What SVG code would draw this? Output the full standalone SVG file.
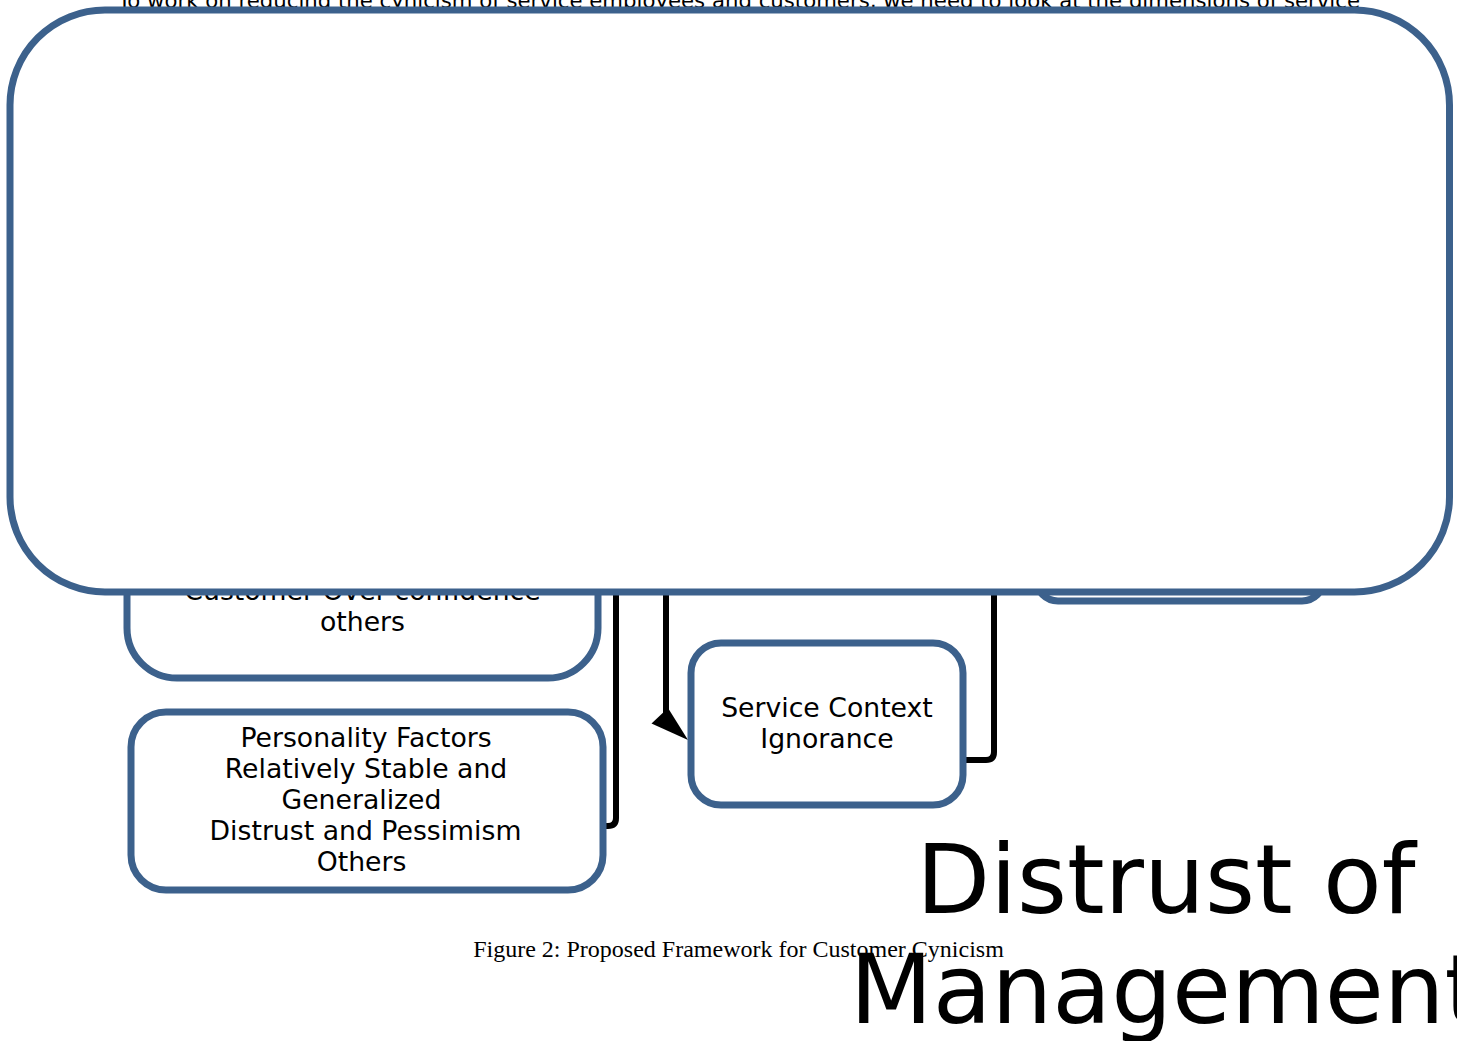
<svg xmlns="http://www.w3.org/2000/svg" width="1457" height="1041" viewBox="0 0 1457 1041">
<style>
.box{fill:#fff;stroke:#3c618c;stroke-width:7}
.lbl{font-family:"DejaVu Sans",sans-serif;font-size:26.7px;fill:#000;text-anchor:middle}
.conn{fill:none;stroke:#000;stroke-width:6}
.head{fill:#000;stroke:none}
.cap{font-family:"Liberation Serif",serif;font-size:24px;fill:#000;text-anchor:middle}
.big{font-family:"DejaVu Sans",sans-serif;font-size:96px;fill:#000;text-anchor:middle}
</style>
<rect width="1457" height="1041" fill="#fff"/>
<text x="739" y="8" font-family="DejaVu Sans, sans-serif" font-size="22" text-anchor="middle" textLength="1242" lengthAdjust="spacingAndGlyphs">To work on reducing the cynicism of service employees and customers, we need to look at the dimensions of service</text>
<g id="node-overconfidence">
<rect class="box" x="127" y="440" width="471" height="238" rx="50"/>
<text class="lbl" x="362.5" y="600">Customer Over-confidence</text>
<text class="lbl" x="362.5" y="631">others</text>
</g>
<g id="node-right">
<rect class="box" x="1036" y="450" width="288" height="151" rx="22"/>
</g>
<g id="connectors">
<path class="conn" d="M616,590 V818 Q616,826 608,826 H604"/>
<path class="conn" d="M666,590 V714"/>
<polygon class="head" points="651.5,723.5 668,708 688,740"/>
<path class="conn" d="M994,590 V752 Q994,760 986,760 H964"/>
</g>
<g id="node-main">
<rect class="box" x="10" y="10" width="1439.5" height="582" rx="95"/>
</g>
<g id="node-service-context">
<rect class="box" x="691" y="643" width="272" height="162" rx="30"/>
<text class="lbl" x="827" y="717">Service Context</text>
<text class="lbl" x="827" y="748">Ignorance</text>
</g>
<g id="node-personality">
<rect class="box" x="131" y="712" width="472" height="178" rx="35"/>
<text class="lbl" x="366" y="747">Personality Factors</text>
<text class="lbl" x="366" y="778">Relatively Stable and</text>
<text class="lbl" x="361.5" y="809">Generalized</text>
<text class="lbl" x="365.5" y="840">Distrust and Pessimism</text>
<text class="lbl" x="361.5" y="871">Others</text>
</g>
<text class="cap" x="738.5" y="957">Figure 2: Proposed Framework for Customer Cynicism</text>
<g id="node-distrust">
<text class="big" x="1166" y="913">Distrust of</text>
<text class="big" x="1166" y="1023">Management</text>
</g>
</svg>
